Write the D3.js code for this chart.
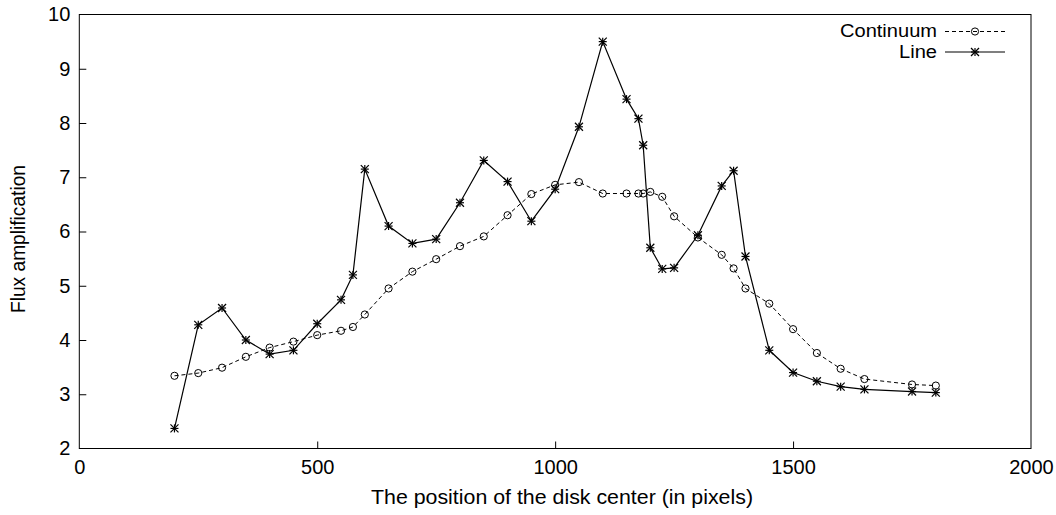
<!DOCTYPE html>
<html>
<head>
<meta charset="utf-8">
<script src="https://cdn.jsdelivr.net/npm/d3@7"></script>
<style>
  html, body { margin: 0; padding: 0; background: #fff; }
  svg { display: block; font-family: "Liberation Sans", Arial, Helvetica, sans-serif; }
  .tick text { font-size: 20px; fill: #000; }
  .tick line { stroke: #000; }
</style>
</head>
<body>
<svg id="chart" width="1056" height="515"></svg>
<script>
// Disk-center position (pixels) at which each amplification was measured
const positions = [200, 250, 300, 350, 400, 450, 500, 550, 575, 600, 650, 700, 750, 800, 850, 900,
  950, 1000, 1050, 1100, 1150, 1175, 1185, 1200, 1225, 1250, 1300, 1350, 1375, 1400, 1450, 1500,
  1550, 1600, 1650, 1750, 1800];

// Flux amplification of the continuum
const continuum = [3.34, 3.39, 3.49, 3.69, 3.86, 3.97, 4.09, 4.17, 4.24, 4.47, 4.95, 5.26, 5.49, 5.73,
  5.91, 6.30, 6.69, 6.86, 6.91, 6.70, 6.70, 6.70, 6.70, 6.73, 6.64, 6.28, 5.89, 5.57, 5.32, 4.95,
  4.67, 4.20, 3.76, 3.47, 3.28, 3.18, 3.16];

// Flux amplification of the emission line
const lineFlux = [2.37, 4.28, 4.59, 4.00, 3.74, 3.81, 4.30, 4.74, 5.20, 7.15, 6.10, 5.78, 5.86, 6.53,
  7.31, 6.92, 6.19, 6.78, 7.93, 9.50, 8.44, 8.08, 7.59, 5.70, 5.31, 5.33, 5.93, 6.84, 7.12, 5.54,
  3.81, 3.40, 3.24, 3.14, 3.09, 3.05, 3.03];

const xTicks = [0, 500, 1000, 1500, 2000];
const yTicks = [2, 3, 4, 5, 6, 7, 8, 9, 10];

const seriesNames = ["Continuum", "Line"];
const xTitle = "The position of the disk center (in pixels)";
const yTitle = "Flux amplification";

const svg = d3.select("#chart");
const plotL = 79.3, plotR = 1031, plotT = 14.5, plotB = 448.5;

const x = d3.scaleLinear().domain([0, 2000]).range([plotL, plotR]);
const y = d3.scaleLinear().domain([2, 10]).range([plotB, plotT]);

// Axes with inward ticks, plain integer labels
const xAxis = d3.axisBottom(x).tickValues(xTicks).tickFormat(d3.format("d"))
  .tickSizeInner(-7).tickSizeOuter(0).tickPadding(9);
const yAxis = d3.axisLeft(y).tickValues(yTicks).tickFormat(d3.format("d"))
  .tickSizeInner(-7).tickSizeOuter(0).tickPadding(9);

const gx = svg.append("g").attr("transform", `translate(0,${plotB})`).call(xAxis);
gx.select(".domain").remove();
gx.selectAll(".tick text").attr("dy", "0.8em");
const gy = svg.append("g").attr("transform", `translate(${plotL},0)`).call(yAxis);
gy.select(".domain").remove();
gy.selectAll(".tick line").filter(d => d === 2 || d === 10).remove();
gx.selectAll(".tick line").filter(d => d === 0 || d === 2000).remove();

// Plot border
svg.append("rect")
  .attr("x", plotL).attr("y", plotT)
  .attr("width", plotR - plotL).attr("height", plotB - plotT)
  .attr("fill", "none").attr("stroke", "#000").attr("stroke-width", 1);

// Axis titles
svg.append("text")
  .attr("x", 562).attr("y", 504)
  .attr("text-anchor", "middle").attr("font-size", 20)
  .attr("textLength", 382).attr("lengthAdjust", "spacingAndGlyphs")
  .text(xTitle);
svg.append("text")
  .attr("transform", `translate(25,239) rotate(-90)`)
  .attr("text-anchor", "middle").attr("font-size", 20)
  .attr("textLength", 148).attr("lengthAdjust", "spacingAndGlyphs")
  .text(yTitle);

const contData = positions.map((p, i) => [p, continuum[i]]);
const lineData = positions.map((p, i) => [p, lineFlux[i]]);
const path = d3.line().x(d => x(d[0])).y(d => y(d[1]));

// Marker helpers
function circleMark(g, cx, cy) {
  g.append("circle").attr("cx", cx).attr("cy", cy).attr("r", 3.6)
    .attr("fill", "none").attr("stroke", "#000").attr("stroke-width", 1);
}
function starMark(g, cx, cy) {
  const s = 4;
  const segs = [[-s, 0, s, 0], [0, -s, 0, s], [-s, -s, s, s], [-s, s, s, -s]];
  segs.forEach(([x1, y1, x2, y2]) => {
    g.append("line")
      .attr("x1", cx + x1).attr("y1", cy + y1).attr("x2", cx + x2).attr("y2", cy + y2)
      .attr("stroke", "#000").attr("stroke-width", 1.2);
  });
}

// Continuum: dashed line with open circles
svg.append("path").datum(contData).attr("d", path)
  .attr("fill", "none").attr("stroke", "#000").attr("stroke-width", 1)
  .attr("stroke-dasharray", "4,3");
const gc = svg.append("g");
contData.forEach(d => circleMark(gc, x(d[0]), y(d[1])));

// Line: solid line with star markers
svg.append("path").datum(lineData).attr("d", path)
  .attr("fill", "none").attr("stroke", "#000").attr("stroke-width", 1.2);
const gl = svg.append("g");
lineData.forEach(d => starMark(gl, x(d[0]), y(d[1])));

// Legend
const legend = svg.append("g");
const legY = [31.5, 52];
seriesNames.forEach((name, i) => {
  legend.append("text")
    .attr("x", 937).attr("y", legY[i]).attr("dy", "0.33em")
    .attr("text-anchor", "end").attr("font-size", 18)
    .attr("textLength", i === 0 ? 97 : 38).attr("lengthAdjust", "spacingAndGlyphs")
    .text(name);
  const ln = legend.append("line")
    .attr("x1", 945).attr("x2", 1005).attr("y1", legY[i]).attr("y2", legY[i])
    .attr("stroke", "#000");
  if (i === 0) {
    ln.attr("stroke-dasharray", "4,3").attr("stroke-width", 1);
    circleMark(legend, 975, legY[i]);
  } else {
    ln.attr("stroke-width", 1.2);
    starMark(legend, 975, legY[i]);
  }
});
</script>
</body>
</html>
